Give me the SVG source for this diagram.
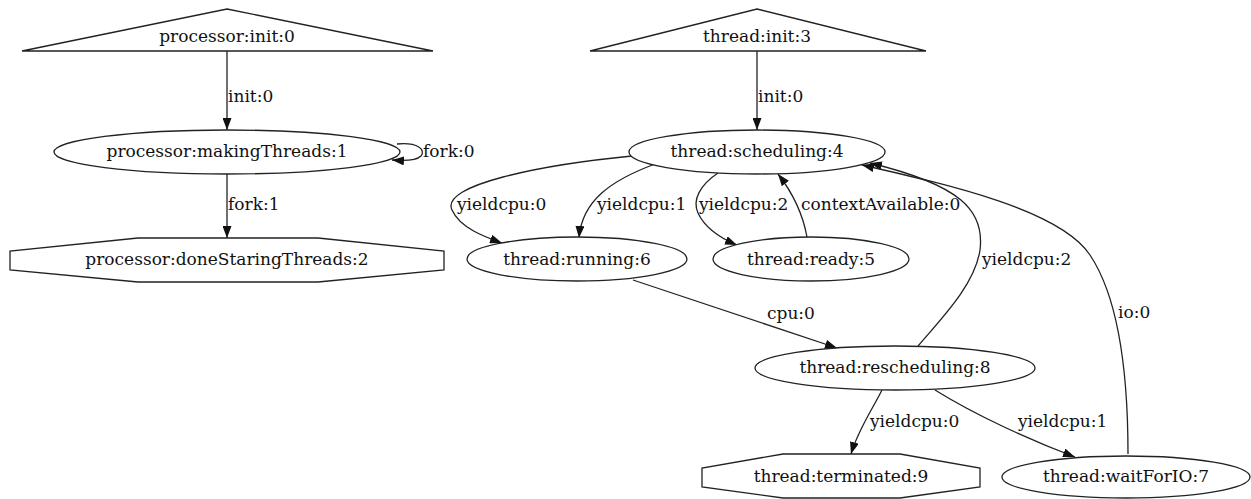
<svg xmlns="http://www.w3.org/2000/svg" width="1251" height="499" viewBox="0 0 1251 499">
<style>
.n{fill:#fff;stroke:#222;stroke-width:1.3}
.t{font-family:"DejaVu Serif","Liberation Serif",serif;font-size:17px;fill:#111;text-anchor:middle}
.l{font-family:"DejaVu Serif","Liberation Serif",serif;font-size:17px;fill:#111}
.e{fill:none;stroke:#222;stroke-width:1.3;marker-end:url(#a)}
</style>
<defs>
<marker id="a" markerUnits="userSpaceOnUse" viewBox="0 0 12 9" refX="12" refY="4.5" markerWidth="12" markerHeight="9" orient="auto">
<path d="M0,0 L12,4.5 L0,9 z" fill="#111"/>
</marker>
</defs>
<rect width="1251" height="499" fill="#fff"/>
<g id="edges">
<path class="e" d="M227,51 L227,130"/>
<path class="e" d="M397,144 C418,142 426,150 421,156 C416,161 405,161 392,160"/>
<path class="e" d="M227,174 L227,238"/>
<path class="e" d="M757,51 L757,130"/>
<path class="e" d="M632,156 C540,165 440,185 452,210 C460,228 485,237 502,243"/>
<path class="e" d="M655,164 C612,180 582,200 579,238"/>
<path class="e" d="M718,173 C700,185 692,200 698,213 C705,228 720,238 737,245"/>
<path class="e" d="M807,237 C803,215 792,192 778,174"/>
<path class="e" d="M633,280 L837,348"/>
<path class="e" d="M918,346 C940,320 975,285 980,250 C985,210 960,185 870,163"/>
<path class="e" d="M1128,454 C1128,380 1120,300 1090,255 C1060,210 950,185 862,165"/>
<path class="e" d="M882,390 C872,410 858,430 851,454"/>
<path class="e" d="M935,390 C975,415 1030,440 1075,457"/>
<text class="l" x="228" y="102">init:0</text>
<text class="l" x="423" y="157">fork:0</text>
<text class="l" x="228" y="210">fork:1</text>
<text class="l" x="758" y="102">init:0</text>
<text class="l" x="457" y="210">yieldcpu:0</text>
<text class="l" x="597" y="210">yieldcpu:1</text>
<text class="l" x="699" y="210">yieldcpu:2</text>
<text class="l" x="801" y="210">contextAvailable:0</text>
<text class="l" x="982" y="265">yieldcpu:2</text>
<text class="l" x="767" y="319">cpu:0</text>
<text class="l" x="1118" y="318">io:0</text>
<text class="l" x="870" y="427">yieldcpu:0</text>
<text class="l" x="1018" y="427">yieldcpu:1</text>
</g>
<g id="processor-init-0">
<polygon class="n" points="227,9 433,51 22,51"/>
<text class="t" x="227" y="42">processor:init:0</text>
</g>
<g id="processor-makingThreads-1">
<ellipse class="n" cx="227" cy="152" rx="173" ry="22"/>
<text class="t" x="227" y="157">processor:makingThreads:1</text>
</g>
<g id="processor-doneStaringThreads-2">
<polygon class="n" points="138,238 318,238 444,251 444,270 318,282 138,282 10,270 10,251"/>
<text class="t" x="227" y="265">processor:doneStaringThreads:2</text>
</g>
<g id="thread-init-3">
<polygon class="n" points="757,9 926,51 590,51"/>
<text class="t" x="757" y="42">thread:init:3</text>
</g>
<g id="thread-scheduling-4">
<ellipse class="n" cx="757" cy="152" rx="128" ry="22"/>
<text class="t" x="757" y="157">thread:scheduling:4</text>
</g>
<g id="thread-running-6">
<ellipse class="n" cx="577" cy="259" rx="110" ry="22"/>
<text class="t" x="577" y="265">thread:running:6</text>
</g>
<g id="thread-ready-5">
<ellipse class="n" cx="811" cy="259" rx="98" ry="22"/>
<text class="t" x="811" y="265">thread:ready:5</text>
</g>
<g id="thread-rescheduling-8">
<ellipse class="n" cx="895" cy="368" rx="140" ry="22"/>
<text class="t" x="895" y="373">thread:rescheduling:8</text>
</g>
<g id="thread-terminated-9">
<polygon class="n" points="783,454 900,454 980,468 980,487 900,498 783,498 702,487 702,468"/>
<text class="t" x="841" y="482">thread:terminated:9</text>
</g>
<g id="thread-waitForIO-7">
<ellipse class="n" cx="1126" cy="477" rx="124" ry="21"/>
<text class="t" x="1126" y="482">thread:waitForIO:7</text>
</g>
</svg>
